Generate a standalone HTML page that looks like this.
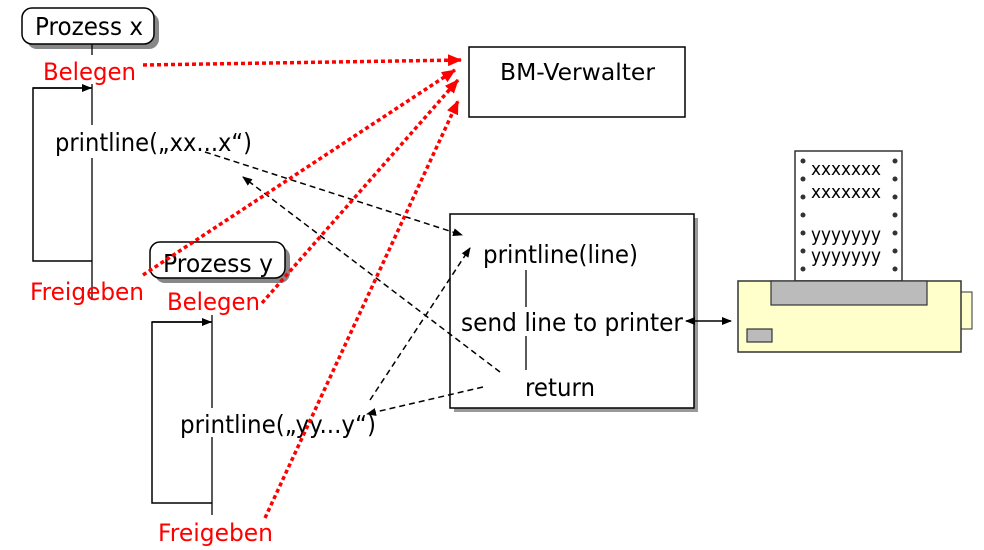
<!DOCTYPE html>
<html><head><meta charset="utf-8"><style>
html,body{margin:0;padding:0;background:#fff;}
svg{display:block;}
text{font-family:"DejaVu Sans","Liberation Sans",sans-serif;}
</style></head><body>
<svg width="984" height="550" viewBox="0 0 984 550" xmlns="http://www.w3.org/2000/svg">
<defs>
<marker id="ab" markerWidth="10" markerHeight="8" refX="9" refY="4" orient="auto" markerUnits="userSpaceOnUse"><path d="M0,0 L10,4 L0,8 z" fill="#000"/></marker>
<marker id="abs" markerWidth="10" markerHeight="8" refX="1" refY="4" orient="auto" markerUnits="userSpaceOnUse"><path d="M10,0 L0,4 L10,8 z" fill="#000"/></marker>
<marker id="ar" markerWidth="14" markerHeight="12" refX="13" refY="6" orient="auto" markerUnits="userSpaceOnUse"><path d="M0,0 L14,6 L0,12 z" fill="#f00"/></marker>
</defs>

<!-- Prozess x -->
<rect x="27" y="13" width="132" height="36" rx="10" fill="#888"/>
<rect x="22" y="8" width="132" height="36" rx="10" fill="#fff" stroke="#000" stroke-width="1.5"/>
<text x="35" y="35" font-size="25" textLength="108" lengthAdjust="spacingAndGlyphs">Prozess x</text>
<line x1="92" y1="44" x2="92" y2="55" stroke="#000" stroke-width="1.3"/>
<line x1="92" y1="84" x2="92" y2="125" stroke="#000" stroke-width="1.3"/>
<line x1="92" y1="158" x2="92" y2="300" stroke="#000" stroke-width="1.3"/>
<polyline points="92,88 33,88 33,261 92,261" fill="none" stroke="#000" stroke-width="1.5"/>
<line x1="33" y1="88" x2="91" y2="88" stroke="#000" stroke-width="1.5" marker-end="url(#ab)"/>
<text x="43" y="80" font-size="24" fill="#f00" textLength="93" lengthAdjust="spacingAndGlyphs">Belegen</text>
<text x="55" y="151" font-size="25" textLength="197" lengthAdjust="spacingAndGlyphs">printline(„xx...x“)</text>
<text x="30" y="300" font-size="24" fill="#f00" textLength="114" lengthAdjust="spacingAndGlyphs">Freigeben</text>

<!-- Prozess y -->
<rect x="155" y="247" width="135" height="36" rx="10" fill="#888"/>
<rect x="150" y="242" width="135" height="36" rx="10" fill="#fff" stroke="#000" stroke-width="1.5"/>
<text x="163" y="272" font-size="25" textLength="110" lengthAdjust="spacingAndGlyphs">Prozess y</text>
<line x1="212" y1="315" x2="212" y2="408" stroke="#000" stroke-width="1.3"/>
<line x1="212" y1="437" x2="212" y2="515" stroke="#000" stroke-width="1.3"/>
<polyline points="212,322 152,322 152,503 212,503" fill="none" stroke="#000" stroke-width="1.5"/>
<line x1="152" y1="322" x2="211" y2="322" stroke="#000" stroke-width="1.5" marker-end="url(#ab)"/>
<text x="167" y="310" font-size="24" fill="#f00" textLength="93" lengthAdjust="spacingAndGlyphs">Belegen</text>
<text x="180" y="433" font-size="25" textLength="196" lengthAdjust="spacingAndGlyphs">printline(„yy...y“)</text>
<text x="158" y="541" font-size="24" fill="#f00" textLength="115" lengthAdjust="spacingAndGlyphs">Freigeben</text>

<!-- BM-Verwalter -->
<rect x="469" y="47" width="216" height="70" fill="#fff" stroke="#000" stroke-width="1.5"/>
<text x="500" y="80" font-size="23" textLength="155" lengthAdjust="spacingAndGlyphs">BM-Verwalter</text>

<!-- printline box -->
<rect x="454" y="218" width="244" height="194" fill="#999"/>
<rect x="450" y="214" width="244" height="194" fill="#fff" stroke="#000" stroke-width="1.5"/>
<text x="483" y="263" font-size="25" textLength="155" lengthAdjust="spacingAndGlyphs">printline(line)</text>
<text x="461" y="331" font-size="25" textLength="222" lengthAdjust="spacingAndGlyphs">send line to printer</text>
<text x="525" y="396" font-size="25" textLength="70" lengthAdjust="spacingAndGlyphs">return</text>
<line x1="526" y1="270" x2="526" y2="307" stroke="#000" stroke-width="1.3"/>
<line x1="526" y1="336" x2="526" y2="370" stroke="#000" stroke-width="1.3"/>

<!-- printer -->
<rect x="795" y="151" width="107" height="130" fill="#fff" stroke="#333" stroke-width="1.5"/>
<g fill="#333">
<circle cx="803" cy="161" r="2.5"/><circle cx="803" cy="179" r="2.5"/><circle cx="803" cy="197" r="2.5"/><circle cx="803" cy="215" r="2.5"/><circle cx="803" cy="233" r="2.5"/><circle cx="803" cy="251" r="2.5"/><circle cx="803" cy="269" r="2.5"/>
<circle cx="895" cy="161" r="2.5"/><circle cx="895" cy="179" r="2.5"/><circle cx="895" cy="197" r="2.5"/><circle cx="895" cy="215" r="2.5"/><circle cx="895" cy="233" r="2.5"/><circle cx="895" cy="251" r="2.5"/><circle cx="895" cy="269" r="2.5"/>
</g>
<text x="811" y="175" font-size="18" textLength="70" lengthAdjust="spacingAndGlyphs">xxxxxxx</text>
<text x="811" y="198" font-size="18" textLength="70" lengthAdjust="spacingAndGlyphs">xxxxxxx</text>
<text x="811" y="241" font-size="19" textLength="70" lengthAdjust="spacingAndGlyphs">yyyyyyy</text>
<text x="811" y="262" font-size="19" textLength="70" lengthAdjust="spacingAndGlyphs">yyyyyyy</text>
<rect x="961" y="292" width="11" height="37" fill="#ffffcc" stroke="#333" stroke-width="1"/>
<rect x="738" y="281" width="223" height="71" fill="#ffffcc" stroke="#333" stroke-width="1.5"/>
<rect x="771" y="281" width="156" height="24" fill="#bbb" stroke="#333" stroke-width="1.2"/>
<rect x="747" y="329" width="25" height="13" fill="#bbb" stroke="#333" stroke-width="1.2"/>
<line x1="686" y1="321" x2="731" y2="321" stroke="#000" stroke-width="1.5" marker-start="url(#abs)" marker-end="url(#ab)"/>

<!-- black dashed -->
<g stroke="#000" stroke-width="1.5" stroke-dasharray="6,4" fill="none">
<line x1="205" y1="152" x2="462" y2="235" marker-end="url(#ab)"/>
<line x1="500" y1="372" x2="243" y2="177" marker-end="url(#ab)"/>
<line x1="370" y1="400" x2="470" y2="248" marker-end="url(#ab)"/>
<line x1="483" y1="387" x2="367" y2="414" marker-end="url(#ab)"/>
</g>

<!-- red dotted -->
<g stroke="#f00" stroke-width="3.5" stroke-dasharray="4,3" fill="none">
<line x1="143" y1="65" x2="461" y2="60" marker-end="url(#ar)"/>
<line x1="143" y1="275" x2="455" y2="70" marker-end="url(#ar)"/>
<line x1="262" y1="303" x2="458" y2="80" marker-end="url(#ar)"/>
<line x1="265" y1="518" x2="458" y2="101" marker-end="url(#ar)"/>
</g>
</svg>
</body></html>
